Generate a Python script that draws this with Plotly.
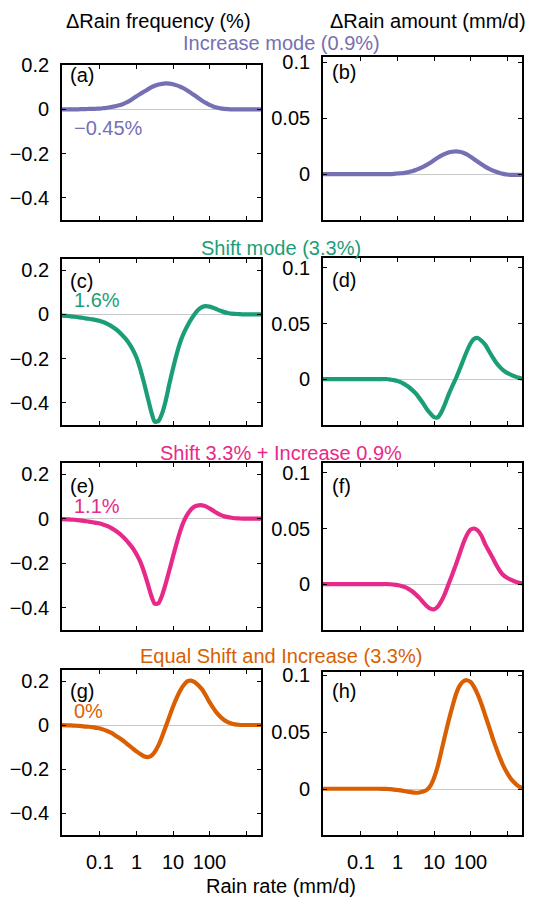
import plotly.graph_objects as go

W, H = 537, 899

# Rain rate grid (mm/d), 0.1-decade spacing across the axis
rate = [0.009, 0.0126, 0.0158, 0.02, 0.0251, 0.0316, 0.0398, 0.0501, 0.0631, 0.0794,
        0.1, 0.126, 0.158, 0.2, 0.251, 0.316, 0.398, 0.501, 0.631, 0.794,
        1, 1.26, 1.58, 2, 2.51, 3.16, 3.98, 5.01, 6.31, 7.94,
        10, 12.6, 15.8, 20, 25.1, 31.6, 39.8, 50.1, 63.1, 79.4,
        100, 126, 158, 200, 251, 316, 398, 501, 631, 794,
        1000, 1260, 1580, 2000, 2600]

# (a) Increase mode: change in rain frequency (%)
freq_increase = [0, 0, 0, 0, 0, 0.0005, 0.001, 0.0015, 0.002, 0.0025,
                 0.003, 0.005, 0.007, 0.010, 0.013, 0.017, 0.022, 0.029, 0.037, 0.048,
                 0.059, 0.069, 0.079, 0.089, 0.099, 0.106, 0.112, 0.115, 0.117, 0.116,
                 0.113, 0.108, 0.102, 0.094, 0.084, 0.073, 0.062, 0.050, 0.039, 0.029,
                 0.020, 0.013, 0.008, 0.004, 0.002, 0.001, 0, 0, 0, 0,
                 0, 0, 0, 0, 0]
# (b) Increase mode: change in rain amount (mm/d)
amount_increase = [0, 0, 0, 0, 0, 0, 0, 0, 0, 0,
                   0, 0, 0, 0, 0, 0, 0, 0, 0, 0.0002,
                   0.0005, 0.0007, 0.001, 0.0017, 0.0025, 0.0036, 0.005, 0.0064, 0.0082, 0.0102,
                   0.0124, 0.0145, 0.0164, 0.018, 0.0192, 0.0199, 0.0202, 0.0199, 0.019, 0.0175,
                   0.0155, 0.0133, 0.011, 0.0087, 0.0066, 0.0048, 0.0033, 0.002, 0.001, 0.0002,
                   -0.0004, -0.0007, -0.0008, -0.0008, -0.0008]
# (c) Shift mode: frequency
freq_shift = [-0.006, -0.007, -0.009, -0.011, -0.013, -0.015, -0.018, -0.020, -0.023, -0.026,
              -0.030, -0.036, -0.043, -0.052, -0.063, -0.076, -0.092, -0.110, -0.132, -0.160,
              -0.195, -0.245, -0.305, -0.372, -0.437, -0.485, -0.482, -0.448, -0.390, -0.315,
              -0.245, -0.180, -0.125, -0.083, -0.050, -0.022, 0.003, 0.022, 0.033, 0.037,
              0.035, 0.030, 0.023, 0.016, 0.010, 0.006, 0.003, 0.002, 0.001, 0,
              0, 0, 0, 0, 0]
# (d) Shift mode: amount
amount_shift = [0, 0, 0, 0, 0, 0, 0, 0, 0, 0,
                0, 0, 0, 0, 0, 0, 0, 0, -0.0005, -0.001,
                -0.0017, -0.003, -0.0048, -0.007, -0.0098, -0.013, -0.0172, -0.0218, -0.027, -0.031,
                -0.0343, -0.0345, -0.030, -0.0225, -0.014, -0.0065, 0.0005, 0.0085, 0.017, 0.025,
                0.032, 0.0362, 0.037, 0.0345, 0.031, 0.0255, 0.020, 0.015, 0.011, 0.0078,
                0.0055, 0.004, 0.0026, 0.0013, 0.0003]
# (e) Shift 3.3% + Increase 0.9%: frequency
freq_combined = [-0.002, -0.003, -0.004, -0.005, -0.007, -0.009, -0.011, -0.013, -0.016, -0.019,
                 -0.022, -0.027, -0.033, -0.041, -0.051, -0.063, -0.077, -0.093, -0.112, -0.133,
                 -0.160, -0.192, -0.235, -0.288, -0.343, -0.382, -0.380, -0.345, -0.292, -0.232,
                 -0.170, -0.110, -0.055, -0.010, 0.020, 0.042, 0.055, 0.060, 0.060, 0.055,
                 0.046, 0.036, 0.026, 0.017, 0.011, 0.007, 0.004, 0.002, 0.001, 0,
                 0, 0, 0, 0, 0]
# (f) Shift 3.3% + Increase 0.9%: amount
amount_combined = [0, 0, 0, 0, 0, 0, 0, 0, 0, 0,
                   0, 0, 0, 0, 0, 0, 0, 0, -0.0002, -0.0005,
                   -0.001, -0.0017, -0.0027, -0.0043, -0.0065, -0.0093, -0.0125, -0.0163, -0.0198, -0.0222,
                   -0.0228, -0.0205, -0.0155, -0.0085, 0.0, 0.0085, 0.0175, 0.027, 0.0365, 0.0442,
                   0.049, 0.050, 0.0482, 0.0435, 0.036, 0.030, 0.024, 0.0175, 0.012, 0.008,
                   0.0057, 0.0039, 0.0025, 0.0014, 0.0006]
# (g) Equal shift and increase: frequency
freq_equal = [-0.001, -0.0015, -0.002, -0.003, -0.004, -0.005, -0.007, -0.008, -0.010, -0.013,
              -0.016, -0.021, -0.027, -0.035, -0.045, -0.056, -0.067, -0.080, -0.094, -0.107,
              -0.120, -0.132, -0.142, -0.146, -0.141, -0.123, -0.093, -0.053, -0.008, 0.038,
              0.083, 0.123, 0.157, 0.183, 0.199, 0.202, 0.194, 0.180, 0.161, 0.134,
              0.104, 0.078, 0.055, 0.037, 0.023, 0.013, 0.007, 0.003, 0.001, 0,
              0, 0, 0, 0, 0]
# (h) Equal shift and increase: amount
amount_equal = [0.0005, 0.0005, 0.0005, 0.0005, 0.0005, 0.0005, 0.0005, 0.0005, 0.0005, 0.0005,
                0.0005, 0.0005, 0.0005, 0.0005, 0.0005, 0.0005, 0.0004, 0.0003, 0.0001, -0.0002,
                -0.0006, -0.001, -0.0016, -0.0022, -0.0027, -0.003, -0.0028, -0.002, -0.0005, 0.003,
                0.010, 0.020, 0.033, 0.047, 0.060, 0.072, 0.083, 0.0905, 0.0945, 0.0955,
                0.094, 0.0895, 0.083, 0.0745, 0.065, 0.0555, 0.0455, 0.0365, 0.028, 0.0205,
                0.0145, 0.0095, 0.006, 0.003, 0.0008]

mode_titles = ["Increase mode (0.9%)", "Shift mode (3.3%)",
               "Shift 3.3% + Increase 0.9%", "Equal Shift and Increase (3.3%)"]
net_labels = ["\u22120.45%", "1.6%", "1.1%", "0%"]
panel_letters = ["(a)", "(b)", "(c)", "(d)", "(e)", "(f)", "(g)", "(h)"]
colors = ["#7570b3", "#1b9e77", "#e7298a", "#d95f02"]

freq_series = [freq_increase, freq_shift, freq_combined, freq_equal]
amount_series = [amount_increase, amount_shift, amount_combined, amount_equal]

x_tickvals = [0.1, 1, 10, 100, 1000]
x_ticktext = ["0.1", "1", "10", "100", ""]
freq_tickvals = [-0.4, -0.2, 0, 0.2]
freq_ticktext = ["\u22120.4", "\u22120.2", "0", "0.2"]
amt_tickvals = [0, 0.05, 0.1]
amt_ticktext = ["0", "0.05", "0.1"]

FONT = "Liberation Sans, Arial, Helvetica, sans-serif"

# layout geometry in pixels
left_x = (62, 261)
right_x = (323, 522)
rows_left = [(65, 220), (259, 425), (463, 630), (670, 835)]
rows_right = [(57, 220), (258, 425), (463, 630), (672, 835)]
ranges_left = [[-0.5, 0.2], [-0.5, 0.25], [-0.5, 0.25], [-0.5, 0.25]]
ranges_right = [[-0.041, 0.1045], [-0.0414, 0.109], [-0.0414, 0.109], [-0.040, 0.1027]]
title_y = [43, 248, 453, 656]
letter_y = [75, 281, 486, 691]
letter_y_right = [72, 280, 486, 691]
net_y = [128, 300, 506, 711]

def xd(a, b):
    return [a / W, b / W]

def yd(top, bot):
    return [1 - bot / H, 1 - top / H]

fig = go.Figure()
layout = dict(width=W, height=H, margin=dict(l=0, r=0, t=0, b=0, pad=0),
              paper_bgcolor="white", plot_bgcolor="white", showlegend=False,
              font=dict(family=FONT, size=20, color="black"))
annotations = []

axis_common = dict(showline=True, linecolor="black", linewidth=1.7, mirror="allticks",
                   ticks="inside", ticklen=4, tickwidth=1.2, tickcolor="black",
                   showgrid=False, automargin=False,
                   tickfont=dict(family=FONT, size=20, color="black"))

idx = 0
for r in range(4):
    for c in range(2):
        idx += 1
        xa = "xaxis" if idx == 1 else f"xaxis{idx}"
        ya = "yaxis" if idx == 1 else f"yaxis{idx}"
        xref = "x" if idx == 1 else f"x{idx}"
        yref = "y" if idx == 1 else f"y{idx}"
        ys = freq_series[r] if c == 0 else amount_series[r]
        fig.add_trace(go.Scatter(x=rate, y=ys, mode="lines", xaxis=xref, yaxis=yref,
                                 line=dict(color=colors[r], width=4.2, shape="spline", smoothing=0.6),
                                 hoverinfo="skip"))
        xdom = left_x if c == 0 else right_x
        rows = rows_left if c == 0 else rows_right
        layout[xa] = dict(axis_common, type="log", range=[-2.04, 3.41],
                          domain=xd(*xdom), anchor=yref,
                          tickvals=x_tickvals, ticktext=x_ticktext,
                          showticklabels=(r == 3), zeroline=False,
                          ticklabelstandoff=8)
        layout[ya] = dict(axis_common, domain=yd(*rows[r]), anchor=xref,
                          range=ranges_left[r] if c == 0 else ranges_right[r],
                          tickvals=freq_tickvals if c == 0 else amt_tickvals,
                          ticktext=freq_ticktext if c == 0 else amt_ticktext,
                          zeroline=True, zerolinecolor="#c8c8c8", zerolinewidth=1.4,
                          ticklabelstandoff=7)
        lx = 68 if c == 0 else 330
        ly = letter_y[r] if c == 0 else letter_y_right[r]
        annotations.append(dict(text=panel_letters[idx - 1], xref="paper", yref="paper",
                                x=lx / W, y=1 - ly / H, xanchor="left", yanchor="middle",
                                showarrow=False, font=dict(size=20, color="black")))
    annotations.append(dict(text=mode_titles[r], xref="paper", yref="paper",
                            x=281 / W, y=1 - title_y[r] / H, xanchor="center", yanchor="middle",
                            showarrow=False, font=dict(size=20, color=colors[r])))
    annotations.append(dict(text=net_labels[r], xref="paper", yref="paper",
                            x=72 / W, y=1 - net_y[r] / H, xanchor="left", yanchor="middle",
                            showarrow=False, font=dict(size=20, color=colors[r])))

annotations.append(dict(text="\u0394Rain frequency (%)", xref="paper", yref="paper",
                        x=158 / W, y=1 - 21 / H, xanchor="center", yanchor="middle",
                        showarrow=False, font=dict(size=20, color="black")))
annotations.append(dict(text="\u0394Rain amount (mm/d)", xref="paper", yref="paper",
                        x=428 / W, y=1 - 21 / H, xanchor="center", yanchor="middle",
                        showarrow=False, font=dict(size=20, color="black")))
annotations.append(dict(text="Rain rate (mm/d)", xref="paper", yref="paper",
                        x=281 / W, y=1 - 886 / H, xanchor="center", yanchor="middle",
                        showarrow=False, font=dict(size=20, color="black")))

layout["annotations"] = annotations
fig.update_layout(**layout)
fig.write_html("out.html")
